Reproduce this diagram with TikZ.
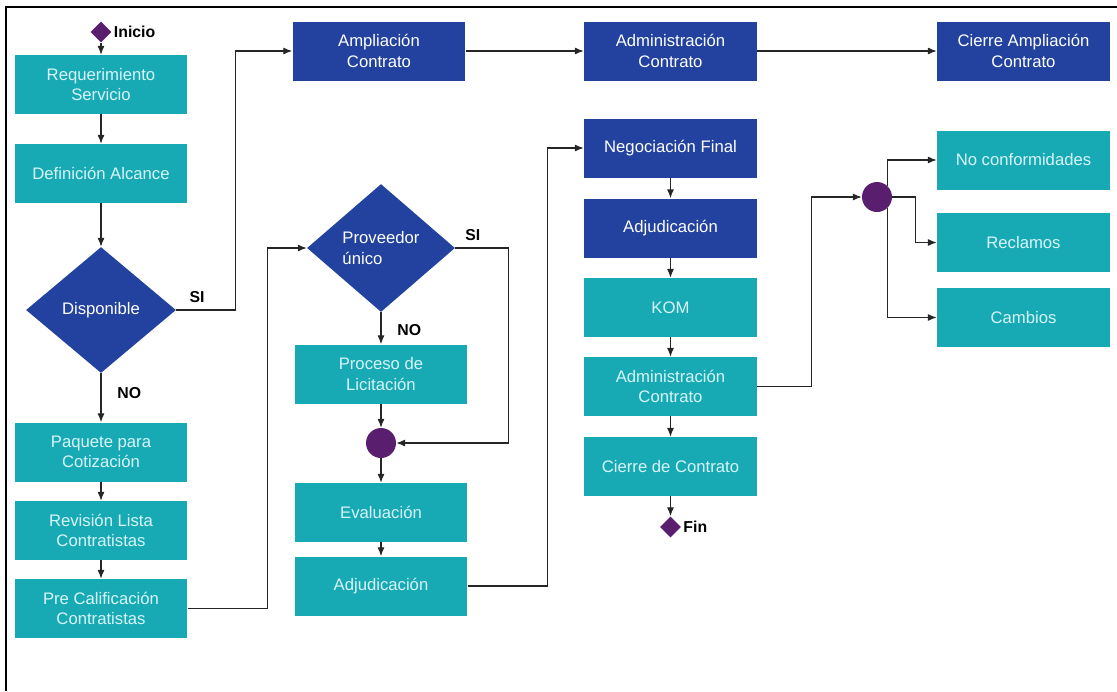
\documentclass[tikz,border=0pt]{standalone}
\usepackage{fontspec}
\setmainfont{Liberation Sans}
\usetikzlibrary{shapes.geometric,arrows.meta}
\definecolor{turquesa}{RGB}{24,170,180}
\definecolor{azul}{RGB}{35,66,160}
\definecolor{morado}{RGB}{90,30,110}
\definecolor{textoclaro}{RGB}{215,245,248}
\tikzset{
	caja/.style={rectangle, fill=turquesa, text=textoclaro, minimum width=3.46cm, minimum height=1.18cm, align=center, inner sep=1pt, font=\fontsize{9.5}{11.5}\selectfont},
	cajaazul/.style={caja, fill=azul, text=white},
	decision/.style={diamond, fill=azul, text=white, inner sep=0pt, align=left, font=\fontsize{9.5}{11.5}\selectfont},
	union/.style={circle, fill=morado, minimum size=0.6cm, inner sep=0pt},
	marca/.style={diamond, fill=morado, minimum size=0.42cm, inner sep=0pt},
	etiqueta/.style={font=\bfseries\fontsize{9}{10}\selectfont, text=black, inner sep=1pt},
	flecha/.style={-{Latex[length=5pt,width=4pt]}, line width=0.6pt, draw=black!85}
}
\begin{document}
\begin{tikzpicture}[x=0.02cm,y=-0.02cm]
	\useasboundingbox (0,0) rectangle (1117,691);
	\draw[line width=1pt] (6,691) -- (6,7) -- (1117,7);
	
	% columna izquierda
	\node[marca, label={[etiqueta]right:Inicio}] (inicio) at (101,32) {};
	\node[caja] (req) at (101,84.5) {Requerimiento\\Servicio};
	\node[caja] (def) at (101,173.5) {Definición Alcance};
	\node[decision, minimum width=3cm, minimum height=2.52cm] (disp) at (101,310) {Disponible};
	\node[caja] (paq) at (101,452) {Paquete para\\Cotización};
	\node[caja] (rev) at (101,530.5) {Revisión Lista\\Contratistas};
	\node[caja] (pre) at (101,608.5) {Pre Calificación\\Contratistas};
	
	% fila superior
	\node[cajaazul] (ampl) at (379,51) {Ampliación\\Contrato};
	\node[cajaazul] (adm1) at (670.5,51) {Administración\\Contrato};
	\node[cajaazul] (cierreampl) at (1023.5,51) {Cierre Ampliación\\Contrato};
	
	% licitacion
	\node[decision, minimum width=2.96cm, minimum height=2.56cm] (prov) at (381,248) {Proveedor\\único};
	\node[caja] (licit) at (381,374) {Proceso de\\Licitación};
	\node[union] (junta) at (381,443) {};
	\node[caja] (eval) at (381,512.5) {Evaluación};
	\node[caja] (adj1) at (381,586) {Adjudicación};
	
	% contrato
	\node[cajaazul] (nego) at (670.5,148) {Negociación Final};
	\node[cajaazul] (adj2) at (670.5,228) {Adjudicación};
	\node[caja] (kom) at (670.5,307.5) {KOM};
	\node[caja] (adm2) at (670.5,386.5) {Administración\\Contrato};
	\node[caja] (cierre) at (670.5,466.5) {Cierre de Contrato};
	\node[marca, label={[etiqueta]right:Fin}] (fin) at (670.5,527) {};
	
	% seguimiento
	\node[union] (junta2) at (877,197) {};
	\node[caja] (noconf) at (1023.5,160) {No conformidades};
	\node[caja] (recl) at (1023.5,242.5) {Reclamos};
	\node[caja] (camb) at (1023.5,317.5) {Cambios};
	
	\draw[flecha] (inicio) -- (req);
	\draw[flecha] (req) -- (def);
	\draw[flecha] (def) -- (disp);
	\draw[flecha] (disp.east) -- node[etiqueta, above, pos=0.35, yshift=3pt] {SI} ++(59,0) |- (ampl.west);
	\draw[flecha] (disp.south) -- node[etiqueta, right, pos=0.4, xshift=8pt] {NO} (paq);
	\draw[flecha] (paq) -- (rev);
	\draw[flecha] (rev) -- (pre);
	\draw[flecha] (pre.east) -- ++(80,0) |- (prov.west);
	\draw[flecha] (ampl) -- (adm1);
	\draw[flecha] (adm1) -- (cierreampl);
	
	\draw[flecha] (prov.south) -- node[etiqueta, right, pos=0.55, xshift=8pt] {NO} (licit);
	\draw[flecha] (prov.east) -- node[etiqueta, above, pos=0.33, yshift=3pt] {SI} ++(53,0) |- (junta.east);
	\draw[flecha] (licit) -- (junta);
	\draw[flecha] (junta) -- (eval);
	\draw[flecha] (eval) -- (adj1);
	\draw[flecha] (adj1.east) -- ++(80,0) |- (nego.west);
	
	\draw[flecha] (nego) -- (adj2);
	\draw[flecha] (adj2) -- (kom);
	\draw[flecha] (kom) -- (adm2);
	\draw[flecha] (adm2) -- (cierre);
	\draw[flecha] (cierre) -- (fin);
	\draw[flecha] (adm2.east) -- ++(54,0) |- (junta2.west);
	\draw[flecha] (junta2.north east) |- (noconf.west);
	\draw[flecha] (junta2.east) -- ++(23,0) |- (recl.west);
	\draw[flecha] (junta2.south east) |- (camb.west);
\end{tikzpicture}
\end{document}
